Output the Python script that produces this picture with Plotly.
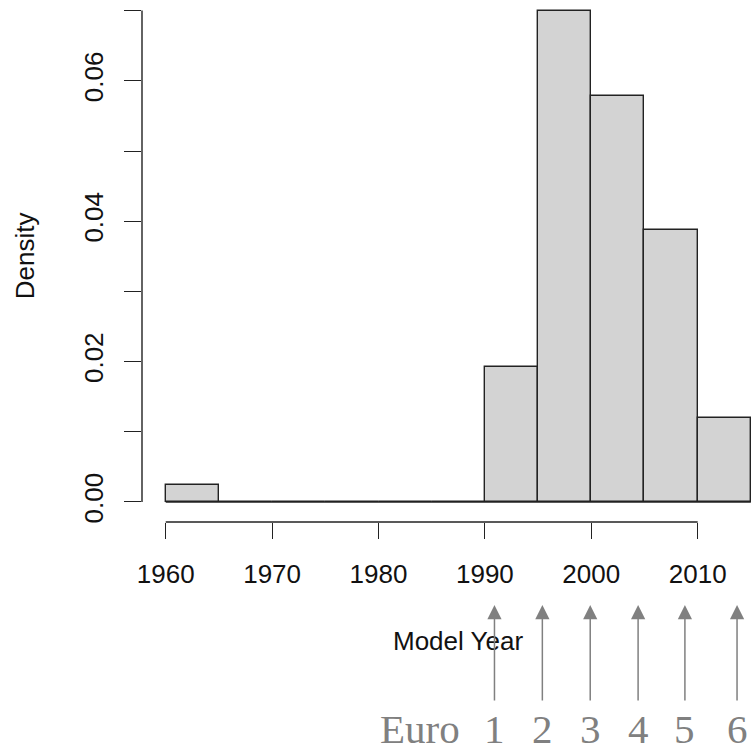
import plotly.graph_objects as go

# ---- data ----
bin_left = [1960, 1965, 1970, 1975, 1980, 1985, 1990, 1995, 2000, 2005, 2010]
bin_width = 5
density = [0.0024, 0, 0, 0, 0, 0, 0.0192, 0.0699, 0.0578, 0.0387, 0.0120]
x_ticks = [1960, 1970, 1980, 1990, 2000, 2010]
y_ticks = [0.00, 0.01, 0.02, 0.03, 0.04, 0.05, 0.06, 0.07]
y_ticktext = ["0.00", "", "0.02", "", "0.04", "", "0.06", ""]
euro_years = [1990.9, 1995.4, 1999.9, 2004.4, 2008.8, 2013.7]
euro_labels = ["1", "2", "3", "4", "5", "6"]

# ---- layout geometry ----
W, H = 753, 753
L, R, T, B = 142, 0, 0, 231
PH = H - T - B


def py(p):
    """pixel row -> paper y"""
    return (H - B - p) / PH


def px(p):
    return (p - L) / (W - L - R)


AX = "#222222"
fig = go.Figure()

mids = [b + bin_width / 2 for b in bin_left]
fig.add_trace(go.Bar(
    x=mids, y=density, width=[bin_width] * len(mids),
    marker=dict(color="#d3d3d3", line=dict(color=AX, width=1.4)),
    hoverinfo="skip",
))

# zero-height bins drawn as baseline (R style)
fig.add_shape(type="line", xref="x", yref="y",
              x0=bin_left[0], x1=bin_left[-1] + bin_width, y0=0, y1=0,
              line=dict(color=AX, width=1.4))
# R-style axis lines (first to last tick)
fig.add_shape(type="line", xref="x", yref="paper",
              x0=x_ticks[0], x1=x_ticks[-1], y0=0, y1=0,
              line=dict(color=AX, width=1.4))
fig.add_shape(type="line", xref="paper", yref="y",
              x0=0, x1=0, y0=y_ticks[0], y1=y_ticks[-1],
              line=dict(color=AX, width=1.4))

font_sans = "Liberation Sans, Arial, sans-serif"

fig.update_layout(
    width=W, height=H,
    margin=dict(l=L, r=R, t=T, b=B, pad=0),
    plot_bgcolor="white", paper_bgcolor="white",
    showlegend=False,
    bargap=0,
    font=dict(family=font_sans, size=26, color="#111111"),
    xaxis=dict(
        range=[1957.77, 2015.2],
        tickvals=x_ticks, ticks="outside", ticklen=16, tickwidth=1.4,
        tickcolor=AX, showline=False, showgrid=False, zeroline=False,
        tickfont=dict(family=font_sans, size=26, color="#111111"),
        ticklabelstandoff=13,
    ),
    yaxis=dict(
        range=[-0.00285, 0.07151],
        tickvals=y_ticks, ticktext=y_ticktext, tickangle=-90,
        ticks="outside", ticklen=17, tickwidth=1.4, tickcolor=AX,
        showline=False, showgrid=False, zeroline=False,
        tickfont=dict(family=font_sans, size=26, color="#111111"),
        ticklabelstandoff=11,
    ),
)

fig.add_annotation(text="Model Year", xref="x", yref="paper",
                   x=1987.5, y=py(641), showarrow=False,
                   xanchor="center", yanchor="middle",
                   font=dict(family=font_sans, size=26, color="#111111"))
fig.add_annotation(text="Density", xref="paper", yref="y",
                   x=px(25), y=0.035, showarrow=False, textangle=-90,
                   xanchor="center", yanchor="middle",
                   font=dict(family=font_sans, size=26, color="#111111"))

GRAY = "#808080"
serif = "Liberation Serif, Times New Roman, serif"
for yr, lab in zip(euro_years, euro_labels):
    fig.add_annotation(text="", xref="x", yref="paper", x=yr, y=py(605),
                       showarrow=True, ax=0, ay=97, arrowhead=2,
                       arrowsize=1.9, arrowwidth=1.5, arrowcolor=GRAY)
    fig.add_annotation(text=lab, xref="x", yref="paper", x=yr, y=py(729),
                       showarrow=False, xanchor="center", yanchor="middle",
                       font=dict(family=serif, size=41, color=GRAY))
fig.add_annotation(text="Euro", xref="paper", yref="paper", x=px(420),
                   y=py(729), showarrow=False, xanchor="center",
                   yanchor="middle",
                   font=dict(family=serif, size=41, color=GRAY))

fig.write_html("out.html")
